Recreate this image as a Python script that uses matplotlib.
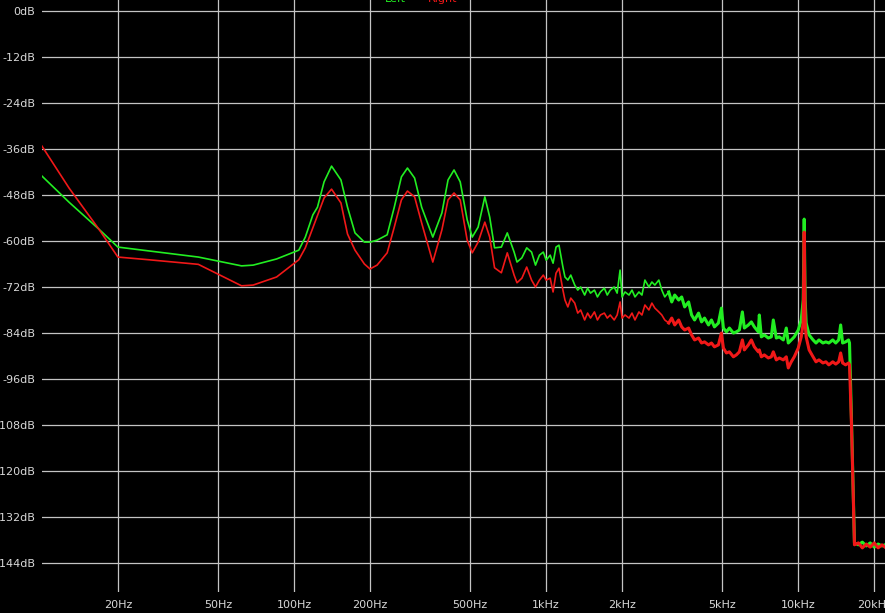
import numpy as np
import matplotlib.pyplot as plt

freq_lo = [10.0, 12.8, 16.8, 20, 26.5, 41.7, 61.9, 68.8, 85.2, 104.4,
           110.8, 118.7, 123.8, 131.5, 140.8, 153.4, 162.9, 174.4, 190, 200,
           213.4, 234, 249.7, 266.5, 281.6, 300.6, 320.6, 355, 385.8, 408,
           431, 456, 486, 509, 537, 571, 597, 624, 664, 701,
           746, 766, 801, 837, 875, 907, 940, 974]
left_lo = [-43.1, -49.9, -56.9, -61.6, -62.6, -64.2, -66.5, -66.3, -64.7, -62.4,
           -59.0, -53.2, -51.2, -44.6, -40.5, -44.1, -51.2, -57.9, -60.3, -60.3,
           -59.8, -58.4, -51.2, -43.3, -41.0, -43.6, -51.2, -59.0, -52.7, -44.1,
           -41.5, -44.6, -54.5, -59.0, -56.4, -48.5, -53.8, -61.8, -61.6, -57.9,
           -62.9, -65.5, -64.4, -61.8, -62.9, -66.3, -63.7, -62.9]
right_lo = [-35.3, -46.2, -56.9, -64.2, -64.9, -66.1, -71.7, -71.5, -69.4, -64.9,
            -61.8, -56.6, -53.5, -48.8, -46.5, -50.1, -58.2, -62.4, -66.0, -67.3,
            -66.3, -63.1, -56.4, -49.3, -47.0, -48.5, -55.3, -65.5, -57.1, -49.3,
            -47.5, -49.3, -59.8, -63.1, -60.3, -55.1, -59.0, -67.0, -68.3, -63.1,
            -68.9, -70.9, -69.7, -66.8, -70.2, -72.0, -70.2, -68.9]

freq_hi = [1000, 1037, 1065, 1094, 1124, 1165, 1187, 1219, 1252, 1298,
           1334, 1370, 1421, 1460, 1499, 1554, 1597, 1641, 1701, 1747,
           1795, 1861, 1912, 1964, 2000, 2055, 2131, 2190, 2250, 2333,
           2398, 2464, 2555, 2626, 2698, 2798, 2875, 2954, 3063, 3148,
           3235, 3354, 3447, 3542, 3673, 3774, 3879, 4022, 4133, 4247,
           4404, 4525, 4650, 4822, 4955, 5046, 5186, 5330, 5528, 5681,
           5839, 6001, 6111, 6338, 6513, 6694, 6943, 7006, 7136, 7333,
           7605, 7817, 7961, 8182, 8409, 8721, 8963, 9128, 9381, 9641,
           10000, 10274, 10460, 10555, 10650, 10747, 11041, 11445, 11758, 12081,
           12524, 12866, 13219, 13704, 14079, 14465, 14727, 14994, 15405, 15826,
           15969, 16260, 16705, 17316, 17951, 18610, 19293, 20000, 20733, 21493, 22081]
left_hi = [-65.0, -63.7, -65.8, -61.6, -61.1, -66.8, -69.4, -70.2, -68.9, -71.5,
           -72.8, -72.0, -74.1, -72.3, -73.6, -72.8, -74.6, -73.3, -72.3, -74.1,
           -72.8, -72.0, -73.6, -67.6, -74.6, -73.3, -74.1, -72.8, -74.6, -73.3,
           -74.1, -70.2, -72.0, -70.7, -71.5, -70.2, -72.8, -74.6, -73.3, -75.9,
           -74.1, -75.4, -74.6, -77.2, -75.9, -79.3, -80.6, -78.8, -81.1, -80.1,
           -81.9, -80.6, -82.4, -81.4, -77.5, -82.7, -83.7, -82.7, -84.0, -83.7,
           -83.2, -78.5, -82.7, -81.9, -81.1, -82.4, -83.7, -79.3, -85.0, -84.5,
           -85.3, -85.0, -80.6, -85.3, -85.0, -85.8, -82.7, -86.6, -85.8, -85.0,
           -83.2, -80.6, -75.4, -54.3, -75.4, -81.4, -84.5, -85.8, -86.6, -85.8,
           -86.6, -86.3, -86.6, -85.8, -86.6, -85.8, -81.9, -86.6, -86.3, -85.8,
           -86.6, -106.7, -138.7, -139.2, -138.5, -139.5, -138.7, -139.8, -139.0, -139.5, -139.2]
right_hi = [-70.2, -69.7, -73.3, -68.4, -67.1, -72.8, -75.4, -77.2, -74.9, -76.2,
            -78.8, -78.0, -80.6, -78.8, -80.1, -78.5, -80.6, -79.3, -78.8, -80.1,
            -79.3, -80.6, -79.3, -75.9, -80.1, -79.3, -80.1, -78.8, -80.6, -78.5,
            -79.3, -76.7, -78.0, -76.2, -77.5, -78.5, -79.3, -80.6, -81.4, -80.1,
            -81.9, -80.6, -82.4, -83.2, -82.7, -84.5, -85.8, -85.3, -86.6, -86.3,
            -87.1, -86.6, -87.6, -87.1, -84.0, -87.9, -89.2, -88.9, -90.2, -89.7,
            -88.9, -85.8, -88.4, -87.1, -85.8, -87.6, -88.9, -88.4, -90.2, -89.7,
            -90.5, -90.2, -88.9, -91.0, -90.5, -91.0, -90.2, -93.1, -91.5, -90.2,
            -87.9, -85.0, -81.4, -57.7, -81.4, -85.0, -88.4, -90.2, -91.5, -91.0,
            -91.8, -91.5, -92.3, -91.5, -92.1, -91.5, -89.2, -91.8, -92.3, -91.8,
            -92.3, -108.0, -139.2, -138.7, -140.0, -139.0, -139.8, -138.7, -140.0, -139.2, -139.8]

x_ticks = [20, 50, 100, 200, 500, 1000, 2000, 5000, 10000, 20000]
x_labels = ['20Hz', '50Hz', '100Hz', '200Hz', '500Hz', '1kHz', '2kHz', '5kHz', '10kHz', '20kHz']
y_ticks = list(range(0, -145, -12))
y_labels = ['%ddB' % v for v in y_ticks]

freq = np.array(freq_lo + freq_hi)
left = np.array(left_lo + left_hi)
right = np.array(right_lo + right_hi)

fig = plt.figure(figsize=(8.85, 6.13), dpi=100, facecolor='black')
ax = fig.add_axes([42 / 885, 1 - 592 / 613, 843 / 885, 592 / 613])
ax.set_facecolor('black')

# partie bruitée (haut du spectre) un peu plus épaisse, comme sur la capture
hf = freq >= 3000
ax.plot(freq, left, color='#22ee22', lw=1.2)
ax.plot(freq[hf], left[hf], color='#22ee22', lw=2.2)
ax.plot(freq, right, color='#f01818', lw=1.2)
ax.plot(freq[hf], right[hf], color='#f01818', lw=2.2)

ax.set_xscale('log')
ax.set_xlim(10, 22081)
ax.set_ylim(-151.5, 2.8)
ax.set_xticks(x_ticks)
ax.set_xticklabels(x_labels)
ax.xaxis.set_minor_locator(plt.NullLocator())
ax.set_yticks(y_ticks)
ax.set_yticklabels(y_labels)
ax.tick_params(colors='#d8d8d8', labelsize=8, length=0)
ax.tick_params(axis='x', pad=6)
ax.tick_params(axis='y', pad=5)
ax.grid(True, color='#c4c4c4', lw=0.9)
ax.set_axisbelow(True)
for s in ax.spines.values():
    s.set_visible(False)

# légende coupée en haut de la capture
fig.text(385 / 885, 1 - 2 / 613, 'Left', color='#22ee22', fontsize=8, va='baseline')
fig.text(428 / 885, 1 - 2 / 613, 'Right', color='#f01818', fontsize=8, va='baseline')

fig.savefig('out.png', dpi=100, facecolor='black')
